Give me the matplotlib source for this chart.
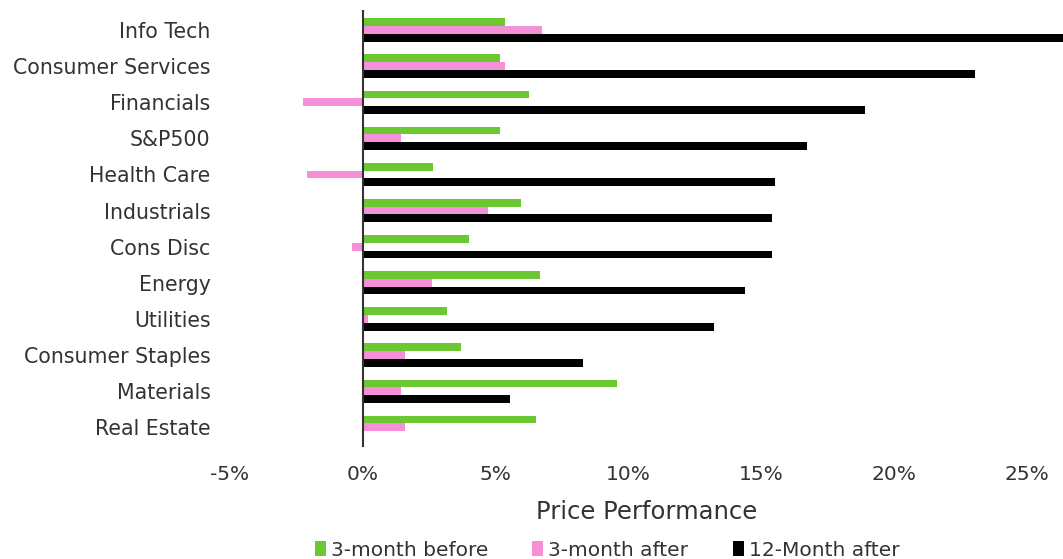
import matplotlib.pyplot as plt
import numpy as np

plt.rcParams['font.family'] = ['DejaVu Sans']

sectors = ["Info Tech", "Consumer Services", "Financials", "S&P500", "Health Care",
           "Industrials", "Cons Disc", "Energy", "Utilities", "Consumer Staples",
           "Materials", "Real Estate"]
before_3m = [5.35, 5.15, 6.25, 5.15, 2.65, 5.95, 4.0, 6.65, 3.15, 3.7, 9.55, 6.5]
after_3m = [6.75, 5.35, -2.25, 1.45, -2.1, 4.7, -0.4, 2.6, 0.2, 1.6, 1.45, 1.6]
after_12m = [28.0, 23.05, 18.9, 16.7, 15.5, 15.4, 15.4, 14.4, 13.2, 8.3, 5.55, 0.0]

green = "#6cc832"
pink = "#f48fd8"
grey = "#333333"

fig = plt.figure(figsize=(10.63, 5.59), dpi=100)
ax = fig.add_axes([0.2164, 0.2, 0.7836, 0.782])

y = np.arange(len(sectors))
h = 0.215
ax.barh(y - h, before_3m, height=h, color=green, label="3-month before")
ax.barh(y, after_3m, height=h, color=pink, label="3-month after")
ax.barh(y + h, after_12m, height=h, color="black", label="12-Month after")

ax.axvline(0, color=grey, lw=1.5)

ax.set_xlim(-5, 26.35)
ax.set_ylim(11.55, -0.55)
ax.set_yticks(y)
ax.set_yticklabels(sectors, fontsize=14.8, color=grey)
ax.set_xticks([-5, 0, 5, 10, 15, 20, 25])
ax.set_xticklabels(["-5%", "0%", "5%", "10%", "15%", "20%", "25%"], fontsize=14.5, color=grey)
ax.tick_params(length=0)
ax.tick_params(axis="y", pad=14)
ax.tick_params(axis="x", pad=13)
for s in ax.spines.values():
    s.set_visible(False)

ax.set_xlabel("Price Performance", fontsize=17.5, color=grey, labelpad=11)

leg = fig.legend(loc="center", bbox_to_anchor=(0.571, 0.016), ncol=3, frameon=False,
                 fontsize=14.5, handlelength=0.55, handleheight=0.75, handletextpad=0.25,
                 columnspacing=2.2, borderpad=0)
for t in leg.get_texts():
    t.set_color(grey)

fig.savefig("out.png", dpi=100)
